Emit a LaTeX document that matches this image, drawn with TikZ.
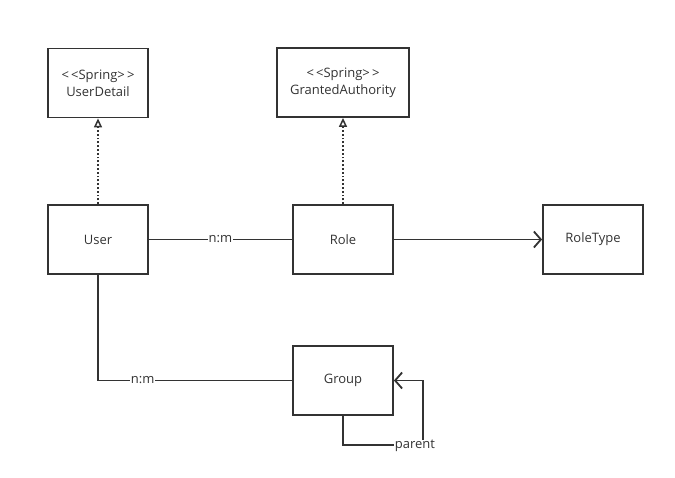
\documentclass[tikz,border=0pt]{standalone}
\usepackage{fontspec}
\setmainfont{Open Sans}
\usetikzlibrary{arrows.meta}
\begin{document}
\begin{tikzpicture}[x=1pt,y=-1pt,
  cls/.style={draw=black!80, line width=1.8pt, minimum width=100pt, minimum height=69pt, inner sep=0pt, align=center, font=\fontsize{13}{17}\selectfont, text=black!80},
  conn/.style={draw=black!80, line width=1.8pt},
  lbl/.style={fill=white, inner sep=0.5pt, font=\fontsize{13}{15}\selectfont, text=black!80},
  real/.style={conn, dotted, line width=1.5pt, -{Triangle[open,length=9pt,width=8pt,line width=1.5pt]}},
  nav/.style={conn, -{Straight Barb[length=7pt,width=16pt,line width=1.8pt]}}]
\useasboundingbox (0,0) rectangle (675,478);
\node[cls] (ud) at (98,83) {<\,<Spring>\,>\\UserDetail};
\node[cls, minimum width=132pt] (ga) at (343,82.5) {<\,<Spring>\,>\\GrantedAuthority};
\node[cls] (user) at (98,239.5) {User};
\node[cls] (role) at (343,239.5) {Role};
\node[cls] (rt) at (593,239.5) {RoleType};
\node[cls] (grp) at (343,380.5) {Group};
\draw[real] (user.north) -- (ud.south);
\draw[real] (role.north) -- (ga.south);
\draw[conn] (user.east) -- node[lbl] (l1) {n:m} (role.west);
\draw[nav] (role.east) -- (rt.west);
\coordinate (c1) at (98,380.5);
\draw[conn] (user.south) -- (c1) -- node[lbl, pos=0.23] (l2) {n:m} (grp.west);
\coordinate (c2) at (343,445);
\coordinate (c3) at (423,445);
\coordinate (c4) at (423,380.5);
\draw[nav] (grp.south) -- (c2) -- (c3) -- (c4) -- (grp.east);
\node[lbl] (l3) at (415,446) {parent};
\end{tikzpicture}
\end{document}
